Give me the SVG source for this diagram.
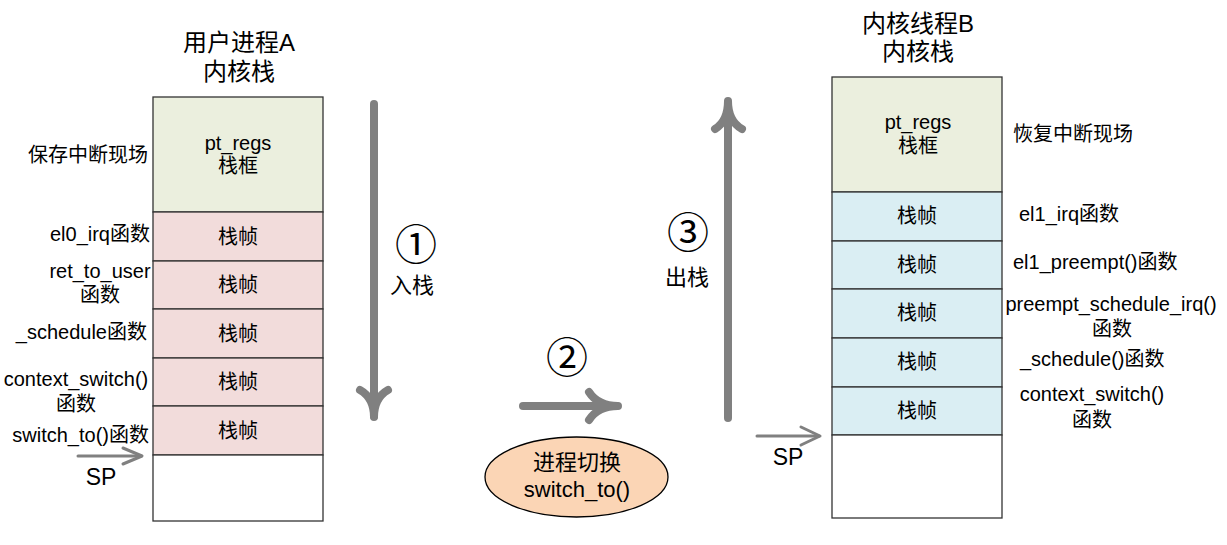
<svg xmlns="http://www.w3.org/2000/svg" width="1227" height="545" viewBox="0 0 1227 545">
<style>
text { font-family: "Liberation Sans", "Noto Sans CJK SC", sans-serif; fill: #000; }
.t { font-size: 24px; text-anchor: middle; }
.l { font-size: 20px; }
.k { font-size: 22px; }
.sp { font-size: 23px; text-anchor: middle; }
.m { text-anchor: middle; }
.e { text-anchor: end; }
.box { stroke: #333; stroke-width: 1.3; }
.g { fill: #ebefde; }
.p { fill: #f2dcdb; }
.b { fill: #daeef3; }
.w { fill: #ffffff; }
.big { fill: none; stroke: #808080; stroke-width: 8; stroke-linecap: round; stroke-linejoin: round; }
.sm { fill: none; stroke: #808080; stroke-width: 3; stroke-linecap: round; stroke-linejoin: round; }
.num { font-family: "Noto Sans CJK SC", "DejaVu Sans", sans-serif; font-size: 42px; text-anchor: middle; }
</style>

<g id="stackA">
  <text class="t" x="239" y="51">用户进程A</text>
  <text class="t" x="239" y="80">内核栈</text>
  <rect class="box g" x="153" y="97" width="170" height="115"/>
  <text class="l m" x="238" y="150">pt_regs</text>
  <text class="l m" x="238" y="173">栈框</text>
  <rect class="box p" x="153" y="212" width="170" height="49"/>
  <text class="l m" x="238" y="244">栈帧</text>
  <rect class="box p" x="153" y="261" width="170" height="48"/>
  <text class="l m" x="238" y="292">栈帧</text>
  <rect class="box p" x="153" y="309" width="170" height="49"/>
  <text class="l m" x="238" y="341">栈帧</text>
  <rect class="box p" x="153" y="358" width="170" height="48"/>
  <text class="l m" x="238" y="389">栈帧</text>
  <rect class="box p" x="153" y="406" width="170" height="49"/>
  <text class="l m" x="238" y="438">栈帧</text>
  <rect class="box w" x="153" y="455" width="170" height="66"/>
</g>

<g id="labelsA">
  <text class="l e" x="148" y="162">保存中断现场</text>
  <text class="l e" x="150" y="241">el0_irq函数</text>
  <text class="l m" x="100" y="278">ret_to_user</text>
  <text class="l m" x="100" y="302">函数</text>
  <text class="l e" x="147" y="339">_schedule函数</text>
  <text class="l m" x="76" y="386">context_switch()</text>
  <text class="l m" x="76" y="411">函数</text>
  <text class="l e" x="149" y="442">switch_to()函数</text>
  <text class="sp" x="101" y="485">SP</text>
</g>

<g id="stackB">
  <text class="t" x="918" y="32">内核线程B</text>
  <text class="t" x="918" y="60">内核栈</text>
  <rect class="box g" x="832" y="77" width="170" height="115"/>
  <text class="l m" x="918" y="129">pt_regs</text>
  <text class="l m" x="918" y="153">栈框</text>
  <rect class="box b" x="832" y="192" width="170" height="49"/>
  <text class="l m" x="917" y="223">栈帧</text>
  <rect class="box b" x="832" y="241" width="170" height="48"/>
  <text class="l m" x="917" y="272">栈帧</text>
  <rect class="box b" x="832" y="289" width="170" height="49"/>
  <text class="l m" x="917" y="320">栈帧</text>
  <rect class="box b" x="832" y="338" width="170" height="49"/>
  <text class="l m" x="917" y="369">栈帧</text>
  <rect class="box b" x="832" y="387" width="170" height="48"/>
  <text class="l m" x="917" y="418">栈帧</text>
  <rect class="box w" x="832" y="435" width="170" height="83"/>
</g>

<g id="labelsB">
  <text class="l" x="1013" y="141">恢复中断现场</text>
  <text class="l" x="1019" y="221">el1_irq函数</text>
  <text class="l" x="1013" y="269">el1_preempt()函数</text>
  <text class="l m" x="1111" y="311">preempt_schedule_irq()</text>
  <text class="l m" x="1112" y="336">函数</text>
  <text class="l" x="1020" y="366">_schedule()函数</text>
  <text class="l m" x="1092" y="401">context_switch()</text>
  <text class="l m" x="1092" y="427">函数</text>
  <text class="sp" x="788" y="465">SP</text>
</g>

<g id="steps">
  <text class="num" x="416" y="260">①</text>
  <text class="k" x="390" y="293">入栈</text>
  <text class="num" x="567" y="373">②</text>
  <text class="num" x="688" y="248">③</text>
  <text class="k" x="665" y="285">出栈</text>
</g>

<g id="switch">
  <ellipse cx="576.5" cy="477" rx="91.5" ry="40" fill="#fbd5b5" stroke="#000" stroke-width="1.3"/>
  <text class="k m" x="577" y="470">进程切换</text>
  <text class="k m" x="577" y="497">switch_to()</text>
</g>

<g id="connectors">
  <path class="big" d="M374,104 L374,416"/>
  <path class="big" d="M360,390 Q374,398 374,417 Q374,398 388,390"/>
  <path class="big" d="M523,406 L616,406"/>
  <path class="big" d="M589,392 Q598,406 618,406 Q598,406 589,420"/>
  <path class="big" d="M728,418 L728,103"/>
  <path class="big" d="M715,129 Q728,121 728,101 Q728,121 742,129"/>
  <path class="sm" d="M78,456 L141,456"/>
  <path class="sm" d="M123,448 L142,456 L123,464"/>
  <path class="sm" d="M757,436 L819,436"/>
  <path class="sm" d="M801,427 L820,436 L801,445"/>
</g>
</svg>
